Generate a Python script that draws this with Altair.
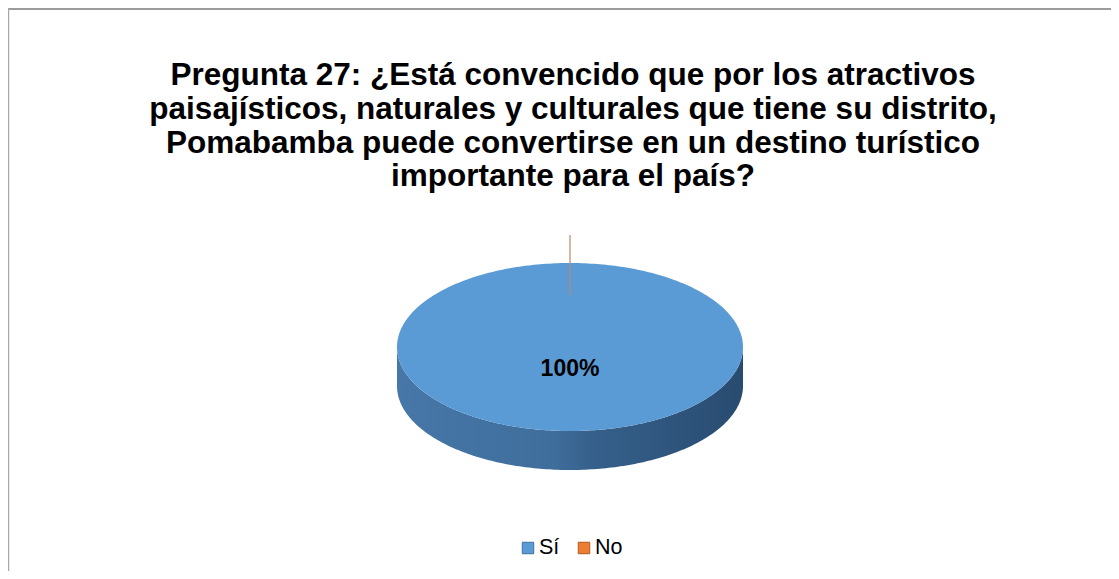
import altair as alt
import numpy as np
import pandas as pd

# ---- data ----
categories = ["Sí", "No"]
values = [100, 0]
colors = ["#5b9bd5", "#ed7d31"]
border_colors = ["#41719c", "#ae5a21"]
title_lines = [
    "Pregunta 27: ¿Está convencido que por los atractivos",
    "paisajísticos, naturales y culturales que tiene su distrito,",
    "Pomabamba puede convertirse en un destino turístico",
    "importante para el país?",
]

# ---- geometry / style ----
W, H = 1103, 563
CX, CY = 562, 339          # ellipse centre (chart px)
A, B, D = 173, 84, 39      # semi-axes and depth of 3D pie
FONT = "Liberation Sans"

total = sum(values)
fracs = [v / total for v in values]
starts = np.cumsum([0.0] + fracs[:-1])

top_rows, side_rows, label_rows, leader_rows = [], [], [], []
for cat, f, s in zip(categories, fracs, starts):
    t0, t1 = 2 * np.pi * s, 2 * np.pi * (s + f)
    if f > 0:
        n = max(int(360 * f), 2)
        ts = np.linspace(t0, t1, n + 1)
        pts = [(CX, CY)] + [(CX + A * np.sin(t), CY - B * np.cos(t)) for t in ts] + [(CX, CY)]
        for i, (x, y) in enumerate(pts):
            top_rows.append(dict(cat=cat, order=i, x=x, y=y))
        lo, hi = max(t0, np.pi / 2), min(t1, 3 * np.pi / 2)
        if hi > lo:
            ts2 = np.linspace(lo, hi, 181)
            upper = [(CX + A * np.sin(t), CY - B * np.cos(t)) for t in ts2]
            lower = [(x, y + D) for x, y in reversed(upper)]
            for i, (x, y) in enumerate(upper + lower + [upper[0]]):
                side_rows.append(dict(cat=cat, order=i, x=x, y=y))
        tm = (t0 + t1) / 2
        r = 0.26 if f >= 0.999 else 0.6
        label_rows.append(dict(cat=cat, x=CX + r * A * np.sin(tm), y=CY - r * B * np.cos(tm),
                               label=f"{round(f * 100)}%"))
    else:
        ex, ey = CX + A * np.sin(t0), CY - B * np.cos(t0)
        leader_rows.append(dict(cat=cat, x=ex, y=ey + 32, y2=ey - 28))

xs = alt.Scale(domain=[0, W])
ys = alt.Scale(domain=[0, H], reverse=True)
cscale = alt.Scale(domain=categories, range=colors)

side_grad = alt.Gradient(
    gradient="linear", x1=0, x2=1, y1=0, y2=0,
    stops=[
        alt.GradientStop(offset=0.0, color="#4677a8"),
        alt.GradientStop(offset=0.45, color="#3f6e9c"),
        alt.GradientStop(offset=0.55, color="#36618c"),
        alt.GradientStop(offset=1.0, color="#294b70"),
    ],
)

side = alt.Chart(pd.DataFrame(side_rows)).mark_line(
    filled=True, fill=side_grad, strokeWidth=0, interpolate="linear"
).encode(
    x=alt.X("x:Q", scale=xs, axis=None),
    y=alt.Y("y:Q", scale=ys, axis=None),
    order="order:Q",
    detail="cat:N",
)

top = alt.Chart(pd.DataFrame(top_rows)).mark_line(
    filled=True, strokeWidth=0
).encode(
    x=alt.X("x:Q", scale=xs, axis=None),
    y=alt.Y("y:Q", scale=ys, axis=None),
    order="order:Q",
    color=alt.Color("cat:N", scale=cscale, legend=None),
)

leader = alt.Chart(pd.DataFrame(leader_rows)).mark_rule(
    color="#b08a72", strokeWidth=1.2
).encode(
    x=alt.X("x:Q", scale=xs, axis=None),
    y=alt.Y("y:Q", scale=ys, axis=None),
    y2="y2:Q",
)

labels = alt.Chart(pd.DataFrame(label_rows)).mark_text(
    font=FONT, fontSize=23, fontWeight="bold", color="#000000", baseline="middle"
).encode(
    x=alt.X("x:Q", scale=xs, axis=None),
    y=alt.Y("y:Q", scale=ys, axis=None),
    text="label:N",
)

# legend (manual, one entry per category)
leg_df = pd.DataFrame({"cat": categories, "i": list(range(len(categories))),
                       "stroke": border_colors})
leg_base = alt.Chart(leg_df).transform_calculate(
    lx="520 + datum.i * 56", ly="540", tx="531 + datum.i * 56"
)
leg_sym = leg_base.mark_square(size=132, opacity=1, strokeWidth=1).encode(
    x=alt.X("lx:Q", scale=xs, axis=None),
    y=alt.Y("ly:Q", scale=ys, axis=None),
    fill=alt.Fill("cat:N", scale=cscale, legend=None),
    stroke=alt.Stroke("stroke:N", scale=None),
)
leg_txt = leg_base.mark_text(
    font=FONT, fontSize=21.5, color="#000000", align="left", baseline="middle"
).encode(
    x=alt.X("tx:Q", scale=xs, axis=None),
    y=alt.Y("ly:Q", scale=ys, axis=None),
    text="cat:N",
)

title_df = pd.DataFrame({"line": title_lines, "i": list(range(len(title_lines)))})
title = alt.Chart(title_df).transform_calculate(
    ty="77 + datum.i * 33.8"
).mark_text(
    font=FONT, fontSize=31.5, fontWeight="bold", color="#000000", baseline="alphabetic", align="center"
).encode(
    x=alt.value(565),
    y=alt.Y("ty:Q", scale=ys, axis=None),
    text="line:N",
)

frame_top = alt.Chart(pd.DataFrame({"a": [0]})).mark_rule(color="#9c9c9c", strokeWidth=2).encode(
    x=alt.value(0), x2=alt.value(W), y=alt.value(1)
)
frame_left = alt.Chart(pd.DataFrame({"a": [0]})).mark_rule(color="#a8a8a8", strokeWidth=1.5).encode(
    x=alt.value(0.5), y=alt.value(0), y2=alt.value(H)
)

chart = alt.layer(frame_top, frame_left, side, top, leader, labels, leg_sym, leg_txt, title).properties(
    width=W, height=H, autosize=alt.AutoSizeParams(type="none"), padding=0, background="#ffffff"
).configure_view(stroke=None)

chart.save("out.html", embed_options={"renderer": "svg", "actions": False})
